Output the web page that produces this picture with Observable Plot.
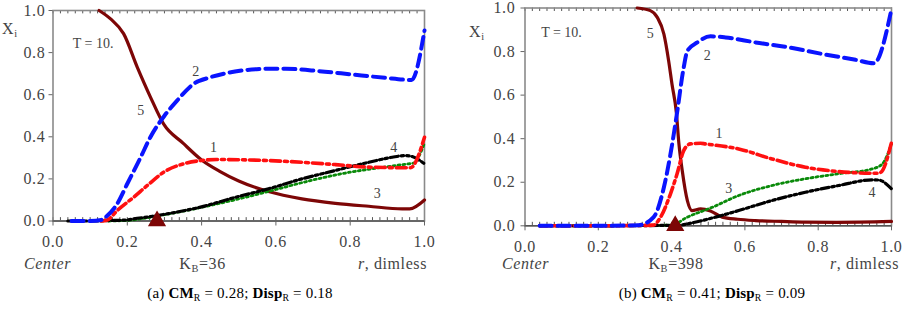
<!DOCTYPE html>
<html><head><meta charset="utf-8">
<script src="https://cdn.jsdelivr.net/npm/d3@7"></script>
<script src="https://cdn.jsdelivr.net/npm/@observablehq/plot@0.6"></script>
<style>
body{margin:0;background:#fff;}
#wrap{position:relative;width:908px;height:310px;overflow:hidden;font-family:'Liberation Serif','Times New Roman','DejaVu Serif',serif;color:#444;}
#wrap svg{position:absolute;top:0;overflow:visible;}
#wrap svg g[aria-label="x-axis tick label"] text, #wrap svg g[aria-label="y-axis tick label"] text{letter-spacing:0.7px;}
.t{position:absolute;white-space:nowrap;line-height:1;font-size:16px;letter-spacing:0.6px;}
.c{transform:translateX(-50%);}
.r{transform:translateX(-100%);}
.cap{color:#000;font-size:15px;letter-spacing:0.2px;}
sub{font-size:0.65em;vertical-align:baseline;position:relative;top:0.3em;}
</style></head><body><div id="wrap"></div>
<script>
// ---- Panel (a): K_B = 36 ----
const a_r5 = [0.124,0.155,0.19,0.227,0.262,0.298,0.35,0.40,0.45,0.5,0.58,0.67,0.76,0.85,0.94,0.96,1.0];
const a_v5 = [1.0,0.96,0.89,0.73,0.59,0.46,0.37,0.29,0.235,0.19,0.14,0.105,0.084,0.07,0.058,0.058,0.10];
const a_r2 = [0.05,0.10,0.13,0.141,0.173,0.2,0.236,0.262,0.30,0.334,0.379,0.424,0.49,0.58,0.626,0.716,0.805,0.895,0.95,0.965,1.0];
const a_v2 = [0,0,0.005,0.018,0.082,0.177,0.303,0.398,0.50,0.572,0.652,0.683,0.71,0.723,0.723,0.712,0.696,0.68,0.671,0.67,0.905];
const a_r1 = [0.13,0.146,0.173,0.217,0.254,0.298,0.352,0.397,0.44,0.5,0.58,0.67,0.76,0.85,0.95,0.962,1.0];
const a_v1 = [0,0.005,0.05,0.113,0.169,0.232,0.272,0.287,0.292,0.291,0.287,0.279,0.268,0.256,0.253,0.253,0.398];
const a_r4 = [0.04,0.10,0.15,0.2,0.217,0.262,0.307,0.397,0.49,0.58,0.67,0.76,0.85,0.913,0.949,0.967,1.0];
const a_v4 = [0,0,0.002,0.005,0.01,0.021,0.034,0.066,0.112,0.153,0.2,0.24,0.279,0.303,0.311,0.306,0.272];
const a_r3 = [0.15,0.2,0.3,0.4,0.5,0.6,0.7,0.8,0.9,0.95,0.97,1.0];
const a_v3 = [0,0.003,0.03,0.065,0.105,0.15,0.195,0.232,0.258,0.27,0.275,0.37];
const a_cm = 0.28;
const a_kb = 36;

// ---- Panel (b): K_B = 398 ----
const b_r5 = [0.306,0.342,0.361,0.379,0.392,0.401,0.413,0.42,0.429,0.443,0.456,0.479,0.506,0.538,0.58,0.629,0.7,0.765,0.85,1.0];
const b_v5 = [1.0,0.988,0.957,0.88,0.757,0.651,0.52,0.376,0.254,0.116,0.07,0.078,0.068,0.04,0.03,0.024,0.02,0.017,0.016,0.02];
const b_r2 = [0.04,0.2,0.31,0.351,0.379,0.397,0.415,0.433,0.443,0.47,0.506,0.547,0.629,0.72,0.811,0.902,0.952,1.0];
const b_v2 = [0,0,0.003,0.04,0.177,0.33,0.52,0.727,0.803,0.842,0.87,0.865,0.842,0.819,0.789,0.762,0.746,0.995];
const b_r1 = [0.04,0.2,0.35,0.37,0.397,0.415,0.433,0.451,0.479,0.492,0.583,0.674,0.765,0.856,0.956,0.97,1.0];
const b_v1 = [0,0,0.003,0.04,0.147,0.239,0.345,0.376,0.379,0.376,0.353,0.307,0.269,0.249,0.241,0.245,0.383];
const b_r3 = [0.04,0.2,0.4,0.443,0.511,0.583,0.674,0.765,0.856,0.947,0.975,1.0];
const b_v3 = [0,0,0.003,0.04,0.085,0.139,0.185,0.216,0.239,0.261,0.284,0.376];
const b_r4 = [0.04,0.2,0.42,0.46,0.52,0.583,0.674,0.765,0.856,0.947,0.965,1.0];
const b_v4 = [0,0,0.003,0.015,0.04,0.07,0.116,0.154,0.185,0.211,0.21,0.17];
const b_cm = 0.41;
const b_kb = 398;

const xTicks = [0,0.2,0.4,0.6,0.8,1.0];
const yTicks = [0,0.2,0.4,0.6,0.8,1.0];
const minorTicks = d3.range(0, 1.0001, 0.02);

// in-plot annotation labels [r, value, text] (centre of text)
const a_labels = [[0.108,0.843,"T = 10."],[0.384,0.712,"2"],[0.236,0.525,"5"],[0.432,0.351,"1"],[0.917,0.351,"4"],[0.873,0.129,"3"]];
const b_labels = [[0.0996,0.888,"T = 10."],[0.342,0.885,"5"],[0.497,0.781,"2"],[0.529,0.422,"1"],[0.556,0.17,"3"],[0.947,0.154,"4"]];

const FONT = "'Liberation Serif','Times New Roman','DejaVu Serif',serif";
const styles = {
  "5": {stroke:"#7d0606", strokeWidth:3.2},
  "3": {stroke:"#0a8a0a", strokeWidth:2.8, strokeDasharray:"2,3"},
  "4": {stroke:"#000", strokeWidth:3.2, strokeDasharray:"8,3,2.5,3,2.5,3"},
  "1": {stroke:"#ff1010", strokeWidth:3.6, strokeDasharray:"10,4,3,4"},
  "2": {stroke:"#0a14ff", strokeWidth:4, strokeDasharray:"12,6"}
};

function pts(r, v){ return r.map((x,i)=>({r:x, v:v[i]})); }

function panel(o){
  const curves = [["5",o.c5],["3",o.c3],["4",o.c4],["1",o.c1],["2",o.c2]];
  return Plot.plot({
    width:o.width, height:o.height,
    marginLeft:o.mL, marginRight:o.mR, marginTop:o.mT, marginBottom:o.mB,
    x:{domain:[0,1]}, y:{domain:[0,1]},
    style:{fontFamily:FONT, fontSize:"16px", color:"#444", background:"transparent"},
    marks:[
      Plot.ruleX(minorTicks, {x:d=>d, y1:0, y2:0.016, stroke:"#555", strokeWidth:1}),
      Plot.ruleX(minorTicks, {x:d=>d, y1:0.984, y2:1, stroke:"#555", strokeWidth:1}),
      Plot.frame({stroke:"#8a8a8a", strokeWidth:1.6}),
      Plot.ruleY([0], {stroke:"#555", strokeWidth:1.4}),
      Plot.axisX({ticks:xTicks, tickFormat:d3.format(".1f"), tickSize:5, tickPadding:10, label:null, stroke:"#666", fontFamily:FONT}),
      Plot.axisY({ticks:yTicks, tickFormat:d3.format(".1f"), tickSize:4, tickPadding:o.yPad, label:null, stroke:"#666", fontFamily:FONT}),
      ...curves.map(([k,d]) => Plot.line(d, {x:"r", y:"v", curve:"monotone-x", ...styles[k]})),
      Plot.dot([o.cm], {x:d=>d, y:()=>0, symbol:"triangle", r:5.8, fill:"#7d0606", stroke:"#7d0606"}),
      Plot.text(o.labels, {x:d=>d[0], y:d=>d[1], text:d=>d[2], fontSize:14, fill:"#444", fontFamily:FONT})
    ]
  });
}

const wrap = document.getElementById("wrap");
const pa = panel({width:440, height:255, mL:52.5, mR:16, mT:10, mB:34.5, yPad:3.5,
  c5:pts(a_r5,a_v5), c3:pts(a_r3,a_v3), c4:pts(a_r4,a_v4), c1:pts(a_r1,a_v1), c2:pts(a_r2,a_v2),
  cm:a_cm, labels:a_labels});
pa.style.left = "0px";
wrap.appendChild(pa);
const pb = panel({width:454, height:260, mL:70.5, mR:17, mT:7.5, mB:34.7, yPad:5.5,
  c5:pts(b_r5,b_v5), c3:pts(b_r3,b_v3), c4:pts(b_r4,b_v4), c1:pts(b_r1,b_v1), c2:pts(b_r2,b_v2),
  cm:b_cm, labels:b_labels});
pb.style.left = "454px";
wrap.appendChild(pb);

function txt(html, x, y, cls){
  const d = document.createElement("div");
  d.className = "t " + (cls||"");
  d.innerHTML = html;
  d.style.left = x + "px";
  d.style.top = (y - 9) + "px";
  wrap.appendChild(d);
}
txt("X<sub>i</sub>", 2, 30);
txt("<i>Center</i>", 24, 265);
txt("K<sub>B</sub>=" + a_kb, 202.5, 265, "c");
txt("<i>r</i>, dimless", 427, 265, "r");
txt("(a) <b>CM</b><sub>R</sub> = " + a_cm.toFixed(2) + "; <b>Disp</b><sub>R</sub> = 0.18", 240, 295, "c cap");

txt("X<sub>i</sub>", 469, 33);
txt("<i>Center</i>", 502, 265);
txt("K<sub>B</sub>=" + b_kb, 676, 265, "c");
txt("<i>r</i>, dimless", 899, 265, "r");
txt("(b) <b>CM</b><sub>R</sub> = " + b_cm.toFixed(2) + "; <b>Disp</b><sub>R</sub> = 0.09", 712, 295, "c cap");
</script></body></html>
